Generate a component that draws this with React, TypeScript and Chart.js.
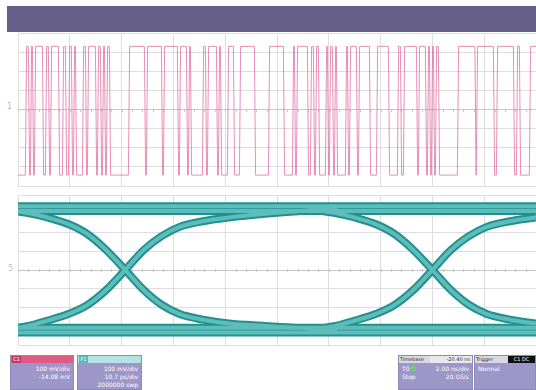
import React, { useEffect, useRef } from "react";
import { Chart, registerables } from "chart.js";

Chart.register(...registerables);

// ---------- Channel 1 (pink NRZ trace) ----------
// edge positions in horizontal divisions (0..10); trace starts low and toggles at each edge
const C1_EDGES = [
  0.154, 0.212, 0.251, 0.29, 0.328, 0.483, 0.541, 0.598, 0.637, 0.792,
  0.869, 0.927, 0.985, 1.042, 1.081, 1.12, 1.255, 1.313, 1.351, 1.506,
  1.544, 1.602, 1.641, 1.68, 1.718, 1.776, 2.143, 2.452, 2.49, 2.78,
  2.819, 3.089, 3.127, 3.263, 3.301, 3.34, 3.571, 3.629, 3.668, 3.842,
  3.88, 3.919, 4.054, 4.17, 4.286, 4.575, 4.846, 5.135, 5.309, 5.347,
  5.386, 5.598, 5.656, 5.714, 5.753, 5.811, 5.946, 5.985, 6.023, 6.081,
  6.12, 6.158, 6.332, 6.371, 6.409, 6.544, 6.583, 6.795, 6.931, 7.162,
  7.336, 7.394, 7.452, 7.703, 7.741, 7.876, 7.915, 7.954, 7.992, 8.031,
  8.069, 8.127, 8.494, 8.832, 8.861, 9.189, 9.247, 9.575, 9.633, 9.691,
  9.884,
];
const C1_HIGH = 3.3; // divisions
const C1_LOW = -3.43;

// ---------- Eye diagram (teal) ----------
const EYE_CROSSINGS = [2.07, 8.0]; // crossing positions, divisions
const EYE_DX = [-2.4, -1.9, -1.5, -1.1, -0.75, -0.4, 0, 0.35, 0.7, 1.05, 1.5, 2.0, 2.7, 3.4, 4.1];
const EYE_RISING = [-3.2, -3.0, -2.7, -2.35, -1.9, -1.15, 0, 1.05, 1.8, 2.3, 2.6, 2.8, 3.0, 3.15, 3.25];
const EYE_FALLING = [3.25, 3.05, 2.8, 2.45, 1.95, 1.15, 0, -1.05, -1.85, -2.35, -2.65, -2.85, -2.98, -3.1, -3.2];
const EYE_TOP_RAILS = [3.4, 3.15];
const EYE_BOTTOM_RAILS = [-3.08, -3.33];

// ---------- Info boxes ----------
const INFO_C1 = ["100 mV/div", "-14.08 mV"];
const INFO_F1 = ["100 mV/div", "10.7 ps/div", "2000000 swp"];
const INFO_TB = ["Timebase", "-20.40 ns", "T0", "2.00 ns/div", "Stop", "20 GS/s"];
const INFO_TRIG = ["Trigger", "C1 DC", "Normal"];

const X_DIVS = [0, 10];
const Y_DIVS = [-4, 4];

const GRID = "#dedede";
const GRID_CENTER = "#c8c8c8";

const centerTicks = {
  id: "centerTicks",
  beforeDatasetsDraw(chart: any) {
    const { ctx, scales } = chart;
    const x = scales.x;
    const y = scales.y;
    ctx.save();
    ctx.strokeStyle = GRID_CENTER;
    ctx.lineWidth = 1;
    const y0 = Math.round(y.getPixelForValue(0)) + 0.5;
    for (let i = 0; i <= 50; i++) {
      const px = Math.round(x.getPixelForValue(i * 0.2)) + 0.5;
      ctx.beginPath();
      ctx.moveTo(px, y0 - 1.5);
      ctx.lineTo(px, y0 + 1.5);
      ctx.stroke();
    }
    ctx.restore();
  },
};

function baseOptions(): any {
  return {
    responsive: false,
    animation: false,
    events: [],
    layout: { padding: { left: 2, right: 0, top: 2, bottom: 2 } },
    plugins: { legend: { display: false }, tooltip: { enabled: false } },
    scales: {
      x: {
        type: "linear",
        min: X_DIVS[0],
        max: X_DIVS[1],
        ticks: { display: false, stepSize: 1 },
        grid: { drawTicks: false, color: GRID },
        border: { display: false },
      },
      y: {
        type: "linear",
        min: Y_DIVS[0],
        max: Y_DIVS[1],
        ticks: { display: false, stepSize: 1 },
        grid: {
          drawTicks: false,
          color: (c: any) => (c.tick && c.tick.value === 0 ? GRID_CENTER : GRID),
        },
        border: { display: false },
      },
    },
  };
}

function c1Points() {
  const pts: { x: number; y: number }[] = [{ x: 0, y: C1_LOW }];
  let level = C1_LOW;
  const d = 0.012;
  C1_EDGES.forEach((t) => {
    const next = level === C1_LOW ? C1_HIGH : C1_LOW;
    pts.push({ x: t - d, y: level });
    pts.push({ x: t + d, y: next });
    level = next;
  });
  pts.push({ x: 10, y: level });
  return pts;
}

function eyeTraces() {
  const edge = (c: number, vals: number[]) => EYE_DX.map((d, i) => ({ x: c + d, y: vals[i] }));
  const traces: { x: number; y: number }[][] = [];
  [...EYE_TOP_RAILS, ...EYE_BOTTOM_RAILS].forEach((v) => traces.push([{ x: 0, y: v }, { x: 10, y: v }]));
  EYE_CROSSINGS.forEach((c) => {
    traces.push(edge(c, EYE_RISING));
    traces.push(edge(c, EYE_FALLING));
  });
  return traces;
}

const textStyle: React.CSSProperties = {
  fontFamily: "'DejaVu Sans', sans-serif",
  fontSize: 6,
  lineHeight: "8px",
  color: "#ffffff",
  whiteSpace: "nowrap",
};

const LAV = "#9d97c9";

function InfoBox(props: {
  left: number;
  width: number;
  header: string;
  tag: string;
  tagColor: string;
  lines: string[];
}) {
  return (
    <div
      style={{
        position: "absolute",
        left: props.left,
        top: 355,
        width: props.width,
        height: 35,
        background: LAV,
        border: "1px solid #8f89b8",
        boxSizing: "border-box",
        overflow: "hidden",
      }}
    >
      <div style={{ height: 7, background: props.header, position: "relative" }}>
        <div
          style={{
            position: "absolute",
            left: 1,
            top: 0,
            width: 9,
            height: 7,
            background: props.tagColor,
            ...textStyle,
            fontSize: 5,
            lineHeight: "7px",
            textAlign: "center",
          }}
        >
          {props.tag}
        </div>
      </div>
      <div style={{ ...textStyle, textAlign: "right", paddingRight: 3, paddingTop: 2 }}>
        {props.lines.map((l, i) => (
          <div key={i}>{l}</div>
        ))}
      </div>
    </div>
  );
}

export default function App() {
  const c1Ref = useRef<HTMLCanvasElement>(null);
  const eyeRef = useRef<HTMLCanvasElement>(null);

  useEffect(() => {
    const c1 = new Chart(c1Ref.current as HTMLCanvasElement, {
      type: "line",
      data: {
        datasets: [
          {
            data: c1Points(),
            borderColor: "rgba(226,112,160,0.78)",
            borderWidth: 1,
            pointRadius: 0,
            tension: 0,
          },
        ],
      },
      options: baseOptions(),
      plugins: [centerTicks],
    } as any);

    const traces = eyeTraces();
    const eye = new Chart(eyeRef.current as HTMLCanvasElement, {
      type: "line",
      data: {
        datasets: [
          ...traces.map((t) => ({
            data: t,
            borderColor: "#23908f",
            borderWidth: 8,
            pointRadius: 0,
            cubicInterpolationMode: "monotone",
            order: 2,
          })),
          ...traces.map((t) => ({
            data: t,
            borderColor: "#5cbdbb",
            borderWidth: 4,
            pointRadius: 0,
            cubicInterpolationMode: "monotone",
            order: 1,
          })),
        ],
      },
      options: baseOptions(),
      plugins: [centerTicks],
    } as any);

    return () => {
      c1.destroy();
      eye.destroy();
    };
  }, []);

  return (
    <div style={{ position: "absolute", left: 0, top: 0, width: 536, height: 390, background: "#fff", overflow: "hidden" }}>
      <div style={{ position: "absolute", left: 7, top: 6, width: 529, height: 26, background: "#655e87" }} />
      <div style={{ position: "absolute", left: 16, top: 31 }}>
        <canvas ref={c1Ref} width={520} height={157} style={{ display: "block" }} />
      </div>
      <div style={{ position: "absolute", left: 16, top: 193 }}>
        <canvas ref={eyeRef} width={520} height={154} style={{ display: "block" }} />
      </div>
      <div style={{ position: "absolute", left: 7, top: 103, ...textStyle, fontSize: 8, color: "#d9a6bd" }}>1</div>
      <div style={{ position: "absolute", left: 8, top: 265, ...textStyle, fontSize: 8, color: "#a9c6d6" }}>5</div>

      <InfoBox left={10} width={64} header="#e05a86" tag="C1" tagColor="#c23a68" lines={INFO_C1} />
      <InfoBox left={77} width={65} header="#b5e2e2" tag="F1" tagColor="#5db6b6" lines={INFO_F1} />

      <div
        style={{
          position: "absolute",
          left: 398,
          top: 355,
          width: 75,
          height: 35,
          background: LAV,
          border: "1px solid #8f89b8",
          boxSizing: "border-box",
          overflow: "hidden",
        }}
      >
        <div style={{ height: 7, display: "flex" }}>
          <div style={{ width: 30, background: "#d8d8e0", ...textStyle, fontSize: 5, lineHeight: "7px", color: "#333", paddingLeft: 1 }}>
            {INFO_TB[0]}
          </div>
          <div style={{ flex: 1, background: "#e8e8ee", ...textStyle, fontSize: 5, lineHeight: "7px", color: "#333", textAlign: "right", paddingRight: 2 }}>
            {INFO_TB[1]}
          </div>
        </div>
        <div style={{ ...textStyle, paddingTop: 2, paddingLeft: 3, paddingRight: 3 }}>
          <div style={{ display: "flex", justifyContent: "space-between" }}>
            <span>
              {INFO_TB[2]} <span style={{ display: "inline-block", width: 5, height: 5, background: "#6ccf6c" }} />
            </span>
            <span>{INFO_TB[3]}</span>
          </div>
          <div style={{ display: "flex", justifyContent: "space-between" }}>
            <span>{INFO_TB[4]}</span>
            <span>{INFO_TB[5]}</span>
          </div>
        </div>
      </div>

      <div
        style={{
          position: "absolute",
          left: 474,
          top: 355,
          width: 62,
          height: 35,
          background: LAV,
          border: "1px solid #8f89b8",
          boxSizing: "border-box",
          overflow: "hidden",
        }}
      >
        <div style={{ height: 7, display: "flex" }}>
          <div style={{ width: 32, background: "#d8d8e0", ...textStyle, fontSize: 5, lineHeight: "7px", color: "#333", paddingLeft: 1 }}>
            {INFO_TRIG[0]}
          </div>
          <div style={{ flex: 1, background: "#111", ...textStyle, fontSize: 5, lineHeight: "7px", textAlign: "center" }}>
            {INFO_TRIG[1]}
          </div>
        </div>
        <div style={{ ...textStyle, paddingTop: 2, paddingLeft: 3 }}>{INFO_TRIG[2]}</div>
      </div>
    </div>
  );
}
